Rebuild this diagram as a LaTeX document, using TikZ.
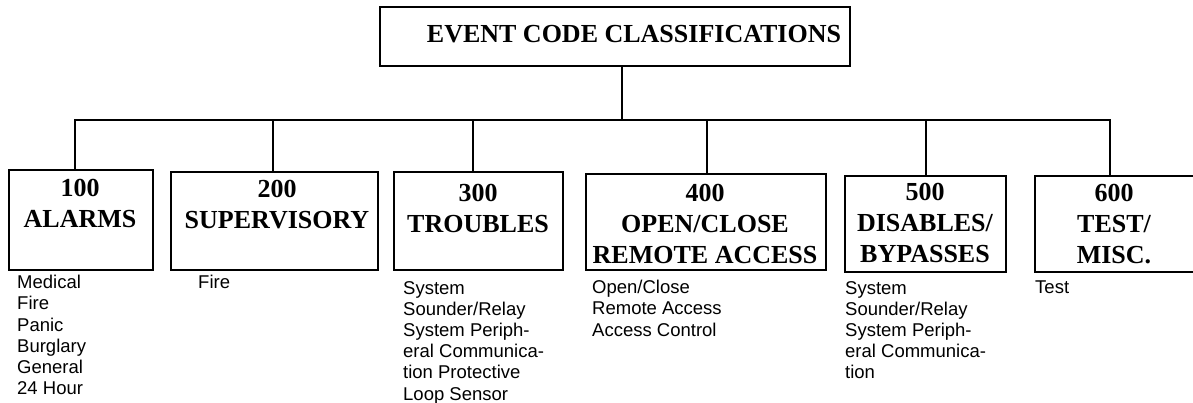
\documentclass[tikz,border=0pt]{standalone}
\usepackage{fontspec}
\setmainfont{Liberation Serif}
\newfontfamily\listfont{Liberation Sans}
\begin{document}
\begin{tikzpicture}[x=1pt,y=-1pt,
  box/.style={draw,line width=2pt,rectangle,inner sep=0pt,outer sep=0pt},
  boxtext/.style={font=\fontsize{26}{31}\selectfont\bfseries,align=center,inner sep=0pt,anchor=north},
  listtext/.style={font=\listfont\fontsize{18.5}{21.2}\selectfont,align=left,inner sep=0pt,anchor=north west},
  conn/.style={line width=2pt}]
\useasboundingbox (0,0) rectangle (1193,402);
\clip (0,0) rectangle (1193,402);
% top box
\node[box,minimum width=470pt,minimum height=59pt] (top) at (615,36.5) {};
\node[font=\fontsize{26}{31}\selectfont\bfseries,inner sep=0pt,anchor=base] (toptext) at (634,42) {EVENT CODE CLASSIFICATIONS};
% category boxes
\node[box,minimum width=144pt,minimum height=100pt] (b1) at (81,220) {};
\node[box,minimum width=207pt,minimum height=98pt] (b2) at (274.5,221) {};
\node[box,minimum width=169pt,minimum height=98pt] (b3) at (478.5,221) {};
\node[box,minimum width=240pt,minimum height=96pt] (b4) at (706,222) {};
\node[box,minimum width=161pt,minimum height=96pt] (b5) at (925.5,224) {};
\node[box,minimum width=180pt,minimum height=96pt] (b6) at (1125,224) {};
% box texts
\node[boxtext] (t1) at (80,179) {100\\ALARMS};
\node[boxtext] (t2) at (277,180) {200\\SUPERVISORY};
\node[boxtext] (t3) at (478,184) {300\\TROUBLES};
\node[boxtext] (t4) at (705,184) {400\\OPEN/CLOSE\\REMOTE ACCESS};
\node[boxtext] (t5) at (925,183) {500\\DISABLES/\\BYPASSES};
\node[boxtext] (t6) at (1114,184) {600\\TEST/\\MISC.};
% lists
\node[listtext] (l1) at (17,275) {Medical\\Fire\\Panic\\Burglary\\General\\24 Hour};
\node[listtext] (l2) at (198,275) {Fire};
\node[listtext] (l3) at (403,281) {System\\Sounder/Relay\\System Periph-\\eral Communica-\\tion Protective\\Loop Sensor};
\node[listtext] (l4) at (592,280) {Open/Close\\Remote Access\\Access Control};
\node[listtext] (l5) at (845,281) {System\\Sounder/Relay\\System Periph-\\eral Communica-\\tion};
\node[listtext] (l6) at (1035,281) {Test};
% connectors
\coordinate (bus) at (622,120);
\coordinate (d1) at (75,120);
\coordinate (d2) at (273,120);
\coordinate (d3) at (473,120);
\coordinate (d4) at (707,120);
\coordinate (d5) at (926,120);
\coordinate (d6) at (1110,120);
\draw[conn] (top.south -| bus) -- (bus);
\draw[conn,line cap=rect] (d1) -- (d6);
\draw[conn] (d1) -- (d1 |- b1.north);
\draw[conn] (d2) -- (d2 |- b2.north);
\draw[conn] (d3) -- (d3 |- b3.north);
\draw[conn] (d4) -- (d4 |- b4.north);
\draw[conn] (d5) -- (d5 |- b5.north);
\draw[conn] (d6) -- (d6 |- b6.north);
\end{tikzpicture}
\end{document}
